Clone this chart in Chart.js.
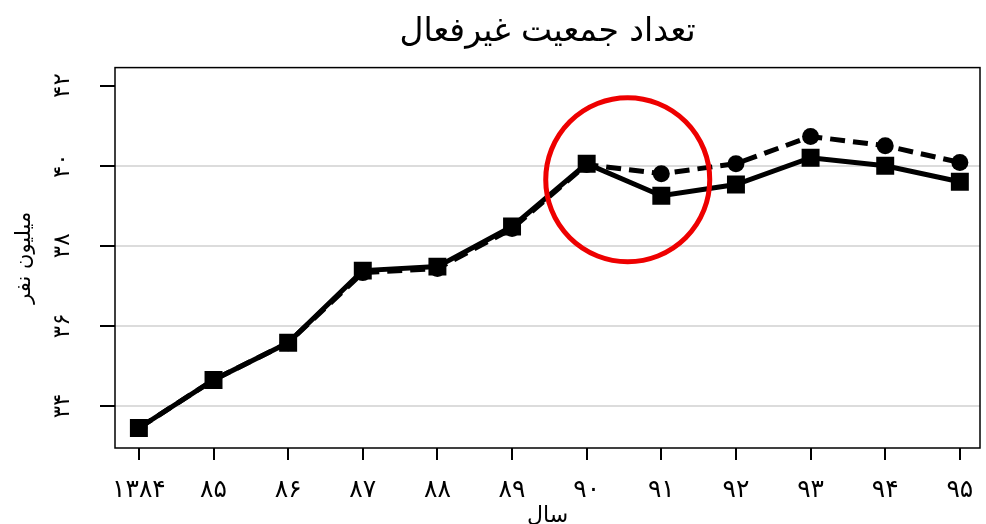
<!DOCTYPE html>
<html>
<head>
<meta charset="utf-8">
<script src="https://cdn.jsdelivr.net/npm/chart.js@4.4.0/dist/chart.umd.min.js"></script>
<style>
  html, body { margin: 0; padding: 0; background: #fff; }
  #wrap { width: 986px; height: 524px; }
</style>
</head>
<body>
<div id="wrap"><canvas id="js--chart"></canvas></div>
<script>
// data
const years = [1384, 1385, 1386, 1387, 1388, 1389, 1390, 1391, 1392, 1393, 1394, 1395];
const xTickLabels = ['۱۳۸۴', '۸۵', '۸۶', '۸۷', '۸۸', '۸۹', '۹۰', '۹۱', '۹۲', '۹۳', '۹۴', '۹۵'];
const yTicks = [34, 36, 38, 40, 42];
const yTickLabels = ['۳۴', '۳۶', '۳۸', '۴۰', '۴۲'];

// solid line, squares
const seriesSquare = [33.45, 34.65, 35.58, 37.38, 37.48, 38.48, 40.05, 39.25, 39.53, 40.2, 40.0, 39.6];
// dashed line, circles
const seriesCircle = [33.45, 34.65, 35.58, 37.33, 37.43, 38.43, 40.03, 39.8, 40.05, 40.73, 40.5, 40.08];

// red highlight around 1390-91
const highlightX = 1390.55;
const highlightY = 39.65;
const highlightR = 82;

const font = 'DejaVu Sans';

const frame = {
  id: 'frame',
  afterDraw(chart) {
    const { ctx, chartArea: a, scales } = chart;
    ctx.save();
    ctx.strokeStyle = '#000';
    ctx.lineWidth = 1.5;
    ctx.strokeRect(a.left, a.top, a.right - a.left, a.bottom - a.top);

    // y tick labels, rotated
    ctx.fillStyle = '#000';
    ctx.font = '23px "' + font + '"';
    ctx.textAlign = 'center';
    ctx.textBaseline = 'middle';
    yTicks.forEach((v, i) => {
      const y = scales.y.getPixelForValue(v);
      ctx.save();
      ctx.translate(63, y);
      ctx.rotate(-Math.PI / 2);
      ctx.fillText(yTickLabels[i], 0, 0);
      ctx.restore();
    });
    ctx.restore();
  },
  afterDatasetsDraw(chart) {
    const { ctx, scales } = chart;
    ctx.save();
    ctx.strokeStyle = '#ee0000';
    ctx.lineWidth = 5;
    ctx.beginPath();
    ctx.arc(scales.x.getPixelForValue(highlightX), scales.y.getPixelForValue(highlightY), highlightR, 0, Math.PI * 2);
    ctx.stroke();
    ctx.restore();
  }
};

const config = {
  type: 'line',
  data: {
    datasets: [
      {
        label: 'square',
        data: years.map((x, i) => ({ x: x, y: seriesSquare[i] })),
        borderColor: '#000',
        backgroundColor: '#000',
        borderWidth: 5,
        pointStyle: 'rect',
        pointRadius: 12.7,
        pointBorderWidth: 0,
        tension: 0
      },
      {
        label: 'circle',
        data: years.map((x, i) => ({ x: x, y: seriesCircle[i] })),
        borderColor: '#000',
        backgroundColor: '#000',
        borderWidth: 5,
        borderDash: [15, 8],
        pointStyle: 'circle',
        pointRadius: 8.5,
        pointBorderWidth: 0,
        tension: 0
      }
    ]
  },
  options: {
    responsive: true,
    maintainAspectRatio: false,
    animation: false,
    layout: { autoPadding: false, padding: { left: 0, right: 6, top: 0, bottom: 0 } },
    plugins: {
      legend: { display: false },
      tooltip: { enabled: false },
      title: {
        display: true,
        fullSize: false,
        text: 'تعداد جمعیت غیرفعال',
        color: '#000',
        font: { family: font, size: 33, weight: 'normal', lineHeight: 1.2 },
        padding: { top: 13, bottom: 15 }
      }
    },
    scales: {
      x: {
        type: 'linear',
        min: 1383.68,
        max: 1395.27,
        afterBuildTicks: s => { s.ticks = years.map(v => ({ value: v })); },
        afterFit: s => { s.height = 76; s.paddingLeft = 0; s.paddingRight = 0; },
        grid: { drawOnChartArea: false, tickLength: 12, tickColor: '#000', lineWidth: 2 },
        border: { display: false },
        ticks: {
          color: '#000',
          padding: 15,
          maxRotation: 0,
          autoSkip: false,
          font: { family: font, size: 25, weight: 'normal' },
          callback: (v, i) => xTickLabels[i]
        },
        title: {
          display: true,
          text: 'سال',
          color: '#000',
          font: { family: font, size: 22, lineHeight: 1 },
          padding: { top: 0, bottom: -3 }
        }
      },
      y: {
        min: 32.95,
        max: 42.45,
        afterBuildTicks: s => { s.ticks = yTicks.map(v => ({ value: v })); },
        afterFit: s => { s.width = 115; },
        grid: {
          color: c => (c.tick && c.tick.value === 42) ? 'rgba(0,0,0,0)' : '#dcdcdc',
          lineWidth: 2,
          tickLength: 15,
          tickColor: '#000'
        },
        border: { display: false },
        ticks: { display: false },
        title: {
          display: true,
          text: 'میلیون نفر',
          color: '#000',
          font: { family: font, size: 21 },
          padding: { top: 12, bottom: 0 }
        }
      }
    }
  },
  plugins: [frame]
};

const chart1 = new Chart(document.getElementById('js--chart'), config);
</script>
</body>
</html>
